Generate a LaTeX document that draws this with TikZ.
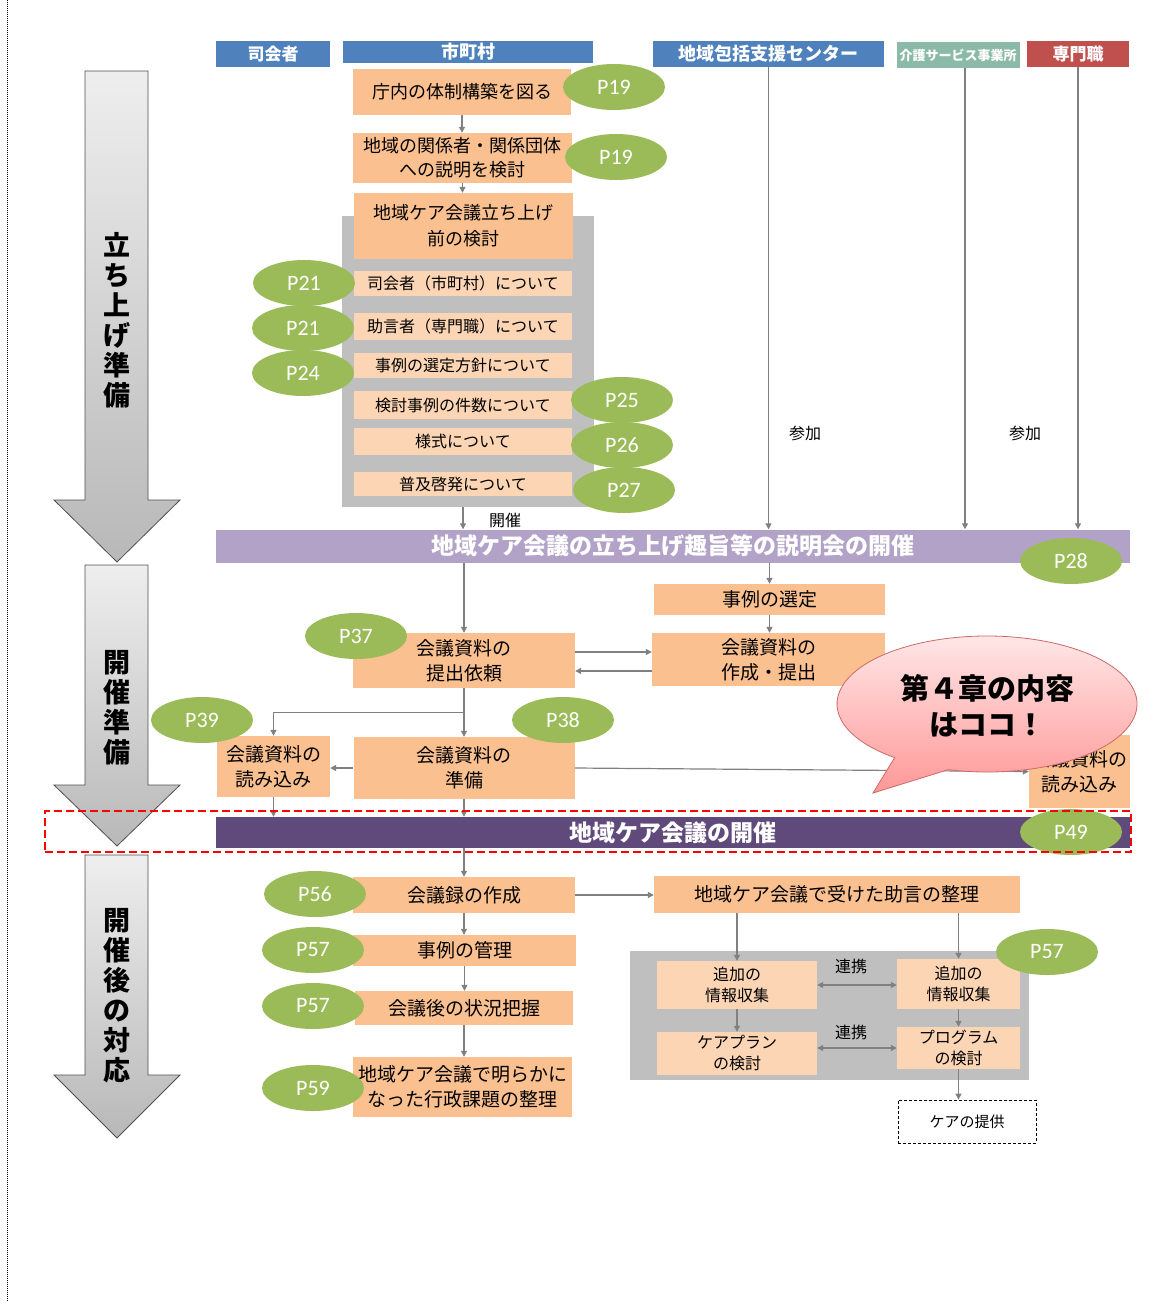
\documentclass[tikz,border=0pt]{standalone}
\usepackage{fontspec}
\setmainfont{Noto Sans CJK JP}
\newfontfamily\pfont{Carlito}
\usetikzlibrary{shapes.geometric, arrows.meta, positioning, calc}

\definecolor{hdrblue}{RGB}{79,129,189}
\definecolor{careteal}{RGB}{139,186,168}
\definecolor{prored}{RGB}{192,80,77}
\definecolor{boxorange}{RGB}{250,192,144}
\definecolor{subpeach}{RGB}{252,213,181}
\definecolor{pgreen}{RGB}{155,187,89}
\definecolor{panelgrey}{RGB}{191,191,191}
\definecolor{linegrey}{RGB}{128,128,128}
\definecolor{lilac}{RGB}{178,162,199}
\definecolor{plum}{RGB}{96,74,123}
\definecolor{alertred}{RGB}{255,0,0}
\definecolor{arrowtop}{RGB}{238,238,238}
\definecolor{arrowbot}{RGB}{184,184,184}
\definecolor{arrowedge}{RGB}{80,80,80}
\definecolor{bubtop}{RGB}{255,234,234}
\definecolor{bubbot}{RGB}{255,152,152}
\definecolor{bubedge}{RGB}{205,105,105}

\begin{document}
\begin{tikzpicture}[x=1pt,y=-1pt,
  wh/.style 2 args={minimum width=#1pt, minimum height=#2pt},
  hdr/.style={fill=#1, text=white, inner sep=0pt, font=\bfseries\fontsize{17}{20}\selectfont},
  box/.style={fill=boxorange, inner sep=0pt, align=center, font=\fontsize{19}{25}\selectfont},
  subbox/.style={fill=subpeach, inner sep=0pt, align=center, font=\fontsize{16}{21}\selectfont},
  pnum/.style={ellipse, fill=pgreen, text=white, inner sep=0pt, minimum width=102pt, minimum height=46pt, font=\pfont\fontsize{22}{24}\selectfont},
  panel/.style={fill=panelgrey, inner sep=0pt},
  flow/.style={draw=linegrey, line width=1.2pt, -{Triangle[length=6pt,width=6pt]}},
  twoway/.style={draw=linegrey, line width=1.2pt, {Triangle[length=6pt,width=6pt]}-{Triangle[length=6pt,width=6pt]}},
  bar/.style={text=white, inner sep=0pt, font=\bfseries\fontsize{23}{26}\selectfont},
  bigarrow/.style={draw=arrowedge, line width=0.8pt, top color=arrowtop, bottom color=arrowbot},
  phase/.style={align=center, font=\bfseries\fontsize{27}{30}\selectfont},
  note/.style={inner sep=1pt, font=\fontsize{16}{18}\selectfont}
]
\useasboundingbox (0,0) rectangle (1166,1301);
\draw[dash pattern=on 1pt off 1pt, line width=0.8pt] (7,0) -- (7,1301);

% Phases
\draw[bigarrow] (85,71) -- (148,71) -- (148,500) -- (180,500) -- (117,562) -- (54,500) -- (85,500) -- cycle;
\node[phase] (phase1) at (117,320) {立\\ち\\上\\げ\\準\\備};
\draw[bigarrow] (85,565) -- (148,565) -- (148,785) -- (180,785) -- (117,846) -- (54,785) -- (85,785) -- cycle;
\node[phase] (phase2) at (117,708) {開\\催\\準\\備};
\draw[bigarrow] (85,855) -- (148,855) -- (148,1075) -- (180,1075) -- (117,1138) -- (54,1075) -- (85,1075) -- cycle;
\node[phase] (phase3) at (117,996) {開\\催\\後\\の\\対\\応};

% Headers
\node[hdr=hdrblue, wh={114}{26}] (mc) at (273,54) {司会者};
\node[hdr=hdrblue, wh={250}{22}, font=\bfseries\fontsize{18}{20}\selectfont] (city) at (468,52) {市町村};
\node[hdr=hdrblue, wh={231}{26}, font=\bfseries\fontsize{18}{20}\selectfont] (houkatsu) at (768.5,54) {地域包括支援センター};
\node[hdr=careteal, wh={123}{26}, font=\bfseries\fontsize{13}{15}\selectfont] (jigyosho) at (958,55) {介護サービス事業所};
\node[hdr=prored, wh={102}{26}] (senmon) at (1078,54) {専門職};

% Startup preparation
\node[box, wh={218}{46}, font=\fontsize{18}{24}\selectfont] (taisei) at (462,92) {庁内の体制構築を図る};
\node[box, wh={219}{50}, font=\fontsize{18}{24}\selectfont] (setsumei) at (462.5,158) {地域の関係者・関係団体\\への説明を検討};
\node[panel, wh={252}{291}] (panel1) at (468,361.5) {};
\node[box, wh={219}{66}, font=\fontsize{18}{26}\selectfont] (kento) at (463.5,226) {地域ケア会議立ち上げ\\前の検討};
\node[subbox, wh={218}{25}] (s1) at (463,283.5) {司会者（市町村）について};
\node[subbox, wh={218}{27}] (s2) at (463,326.5) {助言者（専門職）について};
\node[subbox, wh={218}{25}] (s3) at (463,365.5) {事例の選定方針について};
\node[subbox, wh={218}{28}] (s4) at (463,405) {検討事例の件数について};
\node[subbox, wh={218}{27}] (s5) at (463,441.5) {様式について};
\node[subbox, wh={218}{24}] (s6) at (463,484) {普及啓発について};

\node[bar, fill=lilac, wh={914}{33}] (bar1) at (673,546) {地域ケア会議の立ち上げ趣旨等の説明会の開催};

\draw[flow] (taisei.south) -- (taisei.south |- setsumei.north);
\draw[flow] (setsumei.south) -- (setsumei.south |- kento.north);
\draw[flow] (s6.south |- panel1.south) -- (s6.south |- bar1.north);
\node[note] (kaisai) at (505,520) {開催};
\coordinate (carein) at ([xshift=7pt]jigyosho.south);
\draw[flow] (houkatsu.south) -- (houkatsu.south |- bar1.north);
\draw[flow] (carein) -- (carein |- bar1.north);
\draw[flow] (senmon.south) -- (senmon.south |- bar1.north);
\node[note] (sanka1) at (805,433) {参加};
\node[note] (sanka2) at (1025,433) {参加};

% Meeting preparation
\node[box, wh={231}{31}] (jirei) at (769.5,599.5) {事例の選定};
\node[box, wh={233}{53}] (sakusei) at (768.5,659.5) {会議資料の\\作成・提出};
\node[box, wh={222}{55}] (teishutsu) at (464,660.5) {会議資料の\\提出依頼};
\node[box, wh={113}{61}] (yomi1) at (273.5,766.5) {会議資料の\\読み込み};
\node[box, wh={221}{62}] (junbi) at (464,768) {会議資料の\\準備};
\node[box, wh={101}{73}] (yomi2) at (1079.5,771.5) {会議資料の\\読み込み};
\node[bar, fill=plum, wh={914}{31}] (bar2) at (673,832.5) {地域ケア会議の開催};

\draw[flow] (jirei.north |- bar1.south) -- (jirei.north);
\draw[flow] (jirei.south) -- (jirei.south |- sakusei.north);
\draw[flow] (teishutsu.north |- bar1.south) -- (teishutsu.north);
\coordinate (req) at ([yshift=8.5pt]teishutsu.east);
\coordinate (ret) at ([yshift=-10.5pt]teishutsu.east);
\draw[flow] (req) -- (req -| sakusei.west);
\draw[flow] (ret -| sakusei.west) -- (ret);
\draw[flow] (teishutsu.south) -- (teishutsu.south |- junbi.north);
\draw[flow] (teishutsu.south) -- ++(0,24) -| (yomi1.north);
\draw[flow] (junbi.west) -- (junbi.west -| yomi1.east);
\draw[flow] (junbi.east) -- (yomi2.west);
\draw[flow] (yomi1.south) -- (yomi1.south |- bar2.north);
\draw[flow] (junbi.south) -- (junbi.south |- bar2.north);

% After the meeting
\node[box, wh={222}{36}] (kaigiroku) at (464,895) {会議録の作成};
\node[box, wh={223}{31}] (kanri) at (464.5,950.5) {事例の管理};
\node[box, wh={218}{34}] (haaku) at (464,1008) {会議後の状況把握};
\node[box, wh={219}{60}] (gyosei) at (462.5,1087) {地域ケア会議で明らかに\\なった行政課題の整理};
\node[box, wh={366}{37}] (jogen) at (837,894.5) {地域ケア会議で受けた助言の整理};
\node[panel, wh={399}{129}] (panel2) at (829.5,1015.5) {};
\node[subbox, wh={160}{48}] (add1) at (737,985) {追加の\\情報収集};
\node[subbox, wh={123}{50}] (add2) at (958.5,984) {追加の\\情報収集};
\node[subbox, wh={160}{43}] (careplan) at (737,1053.5) {ケアプラン\\の検討};
\node[subbox, wh={123}{42}] (program) at (958.5,1048) {プログラム\\の検討};
\node[draw, dash pattern=on 3pt off 2pt, line width=0.8pt, inner sep=0pt, wh={138}{43}, font=\fontsize{15}{18}\selectfont] (teikyo) at (967,1121.5) {ケアの提供};
\node[note] (renkei1) at (851,966) {連携};
\node[note] (renkei2) at (851,1032) {連携};

\draw[flow] (kaigiroku.north |- bar2.south) -- (kaigiroku.north);
\draw[flow] (kaigiroku.south) -- (kaigiroku.south |- kanri.north);
\draw[flow] (kanri.south) -- (kanri.south |- haaku.north);
\draw[flow] (haaku.south) -- (haaku.south |- gyosei.north);
\draw[flow] (kaigiroku.east) -- (kaigiroku.east -| jogen.west);
\draw[flow] (add1.north |- jogen.south) -- (add1.north);
\draw[flow] (add2.north |- jogen.south) -- (add2.north);
\draw[twoway] (add1.east) -- (add1.east -| add2.west);
\draw[twoway] (program.west -| careplan.east) -- (program.west);
\draw[flow] (add1.south) -- (careplan.north);
\draw[flow] (add2.south) -- (program.north);
\draw[flow] (program.south) -- (program.south |- teikyo.north);

% Page references
\node[pnum] (p19a) at (614,87) {P19};
\node[pnum] (p19b) at (616,157) {P19};
\node[pnum] (p21a) at (304,283) {P21};
\node[pnum] (p21b) at (303,328) {P21};
\node[pnum] (p24) at (303,373) {P24};
\node[pnum] (p25) at (622,400) {P25};
\node[pnum] (p26) at (622,445) {P26};
\node[pnum] (p27) at (624,490) {P27};
\node[pnum] (p28) at (1071,561) {P28};
\node[pnum] (p37) at (356,636) {P37};
\node[pnum] (p39) at (202,720) {P39};
\node[pnum] (p38) at (563,720) {P38};
\node[pnum] (p49) at (1071,832) {P49};
\node[pnum] (p56) at (315,894) {P56};
\node[pnum] (p57a) at (313,950) {P57};
\node[pnum] (p57b) at (313,1006) {P57};
\node[pnum] (p59) at (313,1088) {P59};
\node[pnum] (p57c) at (1047,952) {P57};

% Highlight
\node[draw=alertred, line width=2.8pt, dash pattern=on 8pt off 4pt, inner sep=0pt, wh={1086}{41}] (focus) at (588,831.5) {};

% Speech bubble
\coordinate (bubc) at (987,704);
\path[draw=bubedge, line width=0.8pt, top color=bubtop, bottom color=bubbot]
  ($(bubc)+(105:150 and 68)$) arc[start angle=105, end angle=-232, x radius=150, y radius=68] -- (873,793) -- cycle;
\node[align=center, font=\bfseries\fontsize{29}{36}\selectfont] (chapter) at (987,706) {第４章の内容\\はココ！};
\end{tikzpicture}
\end{document}
